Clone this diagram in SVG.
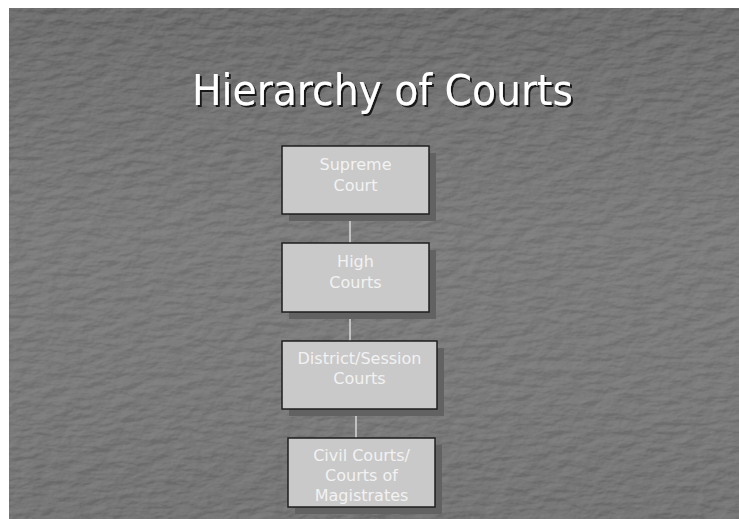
<svg xmlns="http://www.w3.org/2000/svg" width="739" height="519" viewBox="0 0 739 519">
  <defs>
    <linearGradient id="bgGrad" x1="0" y1="0" x2="0" y2="1">
      <stop offset="0" stop-color="#606060"/>
      <stop offset="0.12" stop-color="#666666"/>
      <stop offset="0.45" stop-color="#717171"/>
      <stop offset="0.75" stop-color="#6f6f6f"/>
      <stop offset="1" stop-color="#696969"/>
    </linearGradient>
    <!-- fine scratchy stone texture -->
    <filter id="stone" x="0" y="0" width="100%" height="100%">
      <feTurbulence type="fractalNoise" baseFrequency="0.05 0.12" numOctaves="4" seed="11" result="noise"/>
      <feDiffuseLighting in="noise" lighting-color="#ffffff" surfaceScale="1.4" result="lit">
        <feDistantLight azimuth="225" elevation="60"/>
      </feDiffuseLighting>
      <feColorMatrix in="lit" type="matrix" values="0 0 0 0 1  0 0 0 0 1  0 0 0 0 1  0.34 0 0 0 -0.25" result="hi"/>
      <feComposite in="hi" in2="SourceGraphic" operator="over"/>
    </filter>
    <filter id="titleShadow" x="-5%" y="-20%" width="110%" height="140%">
      <feDropShadow dx="2" dy="2" stdDeviation="0.4" flood-color="#111111" flood-opacity="0.9"/>
    </filter>
    <style>
      .box { fill: #c9c9c9; stroke: #1e1e1e; stroke-width: 1.5; }
      .shadow { fill: #626262; }
      .lbl { font-family: "DejaVu Sans", Verdana, sans-serif; font-size: 16px; fill: #f2f2f2; text-anchor: middle; }
      .link { stroke: #d8d8d8; stroke-width: 1.5; fill: none; }
      .title { font-family: "DejaVu Sans Condensed", "DejaVu Sans", sans-serif; font-size: 42px; fill: #ffffff; text-anchor: middle; }
    </style>
  </defs>

  <!-- page margin and slide background -->
  <rect x="0" y="0" width="739" height="519" fill="#ffffff"/>
  <rect x="9" y="8" width="730" height="511" fill="url(#bgGrad)" filter="url(#stone)"/>

  <text class="title" x="382.5" y="105" textLength="381" lengthAdjust="spacingAndGlyphs" filter="url(#titleShadow)">Hierarchy of Courts</text>

  <g id="connectors">
    <line class="link" x1="350" y1="214" x2="350" y2="243"/>
    <line class="link" x1="350" y1="312" x2="350" y2="341"/>
    <line class="link" x1="356" y1="409" x2="356" y2="438"/>
  </g>

  <g id="supreme-court">
    <rect class="shadow" x="289" y="153" width="147" height="68"/>
    <rect class="box" x="282" y="146" width="147" height="68"/>
    <text class="lbl" x="355.5" y="170">Supreme</text>
    <text class="lbl" x="355.5" y="191">Court</text>
  </g>

  <g id="high-courts">
    <rect class="shadow" x="289" y="250" width="147" height="69"/>
    <rect class="box" x="282" y="243" width="147" height="69"/>
    <text class="lbl" x="355.5" y="267">High</text>
    <text class="lbl" x="355.5" y="288">Courts</text>
  </g>

  <g id="district-session-courts">
    <rect class="shadow" x="289" y="348" width="155" height="68"/>
    <rect class="box" x="282" y="341" width="155" height="68"/>
    <text class="lbl" x="359.5" y="364">District/Session</text>
    <text class="lbl" x="359.5" y="384">Courts</text>
  </g>

  <g id="civil-courts">
    <rect class="shadow" x="295" y="445" width="147" height="69"/>
    <rect class="box" x="288" y="438" width="147" height="69"/>
    <text class="lbl" x="361.5" y="461">Civil Courts/</text>
    <text class="lbl" x="361.5" y="481">Courts of</text>
    <text class="lbl" x="361.5" y="501">Magistrates</text>
  </g>
</svg>
